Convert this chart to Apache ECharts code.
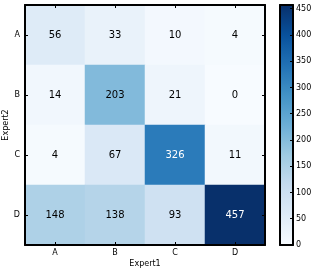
<!DOCTYPE html>
<html><head><meta charset="utf-8">
<script src="https://cdn.jsdelivr.net/npm/echarts@6/dist/echarts.min.js"></script>
<style>html,body{margin:0;padding:0;background:#fff}#c{width:315px;height:273px}</style>
</head><body><div id="c"></div>
<script>
const expert1 = ['A','B','C','D'];
const expert2 = ['A','B','C','D'];
const rowA = [56, 33, 10, 4];
const rowB = [14, 203, 21, 0];
const rowC = [4, 67, 326, 11];
const rowD = [148, 138, 93, 457];
const rows = [rowA, rowB, rowC, rowD];
const cbMax = 457;
const blues = ['#f7fbff','#deebf7','#c6dbef','#9ecae1','#6baed6','#4292c6','#2171b5','#08519c','#08306b'];
const font = 'DejaVu Sans';

const data = [];
rows.forEach((r, yi) => r.forEach((v, xi) => {
  data.push({value: [xi, yi, v], label: {color: v > cbMax / 2 ? '#fff' : '#000'}});
}));

const tick = {show: true, inside: true, length: 3, alignWithLabel: true, interval: 0, lineStyle: {color: '#000'}};
const line = {show: true, onZero: false, lineStyle: {color: '#000', width: 2}};

const chart = echarts.init(document.getElementById('c'), null, {renderer: 'canvas'});
chart.setOption({
  animation: false,
  textStyle: {fontFamily: font},
  grid: [
    {left: 25, top: 5, width: 240, height: 240, containLabel: false, outerBoundsMode: 'none'},
    {left: 280, top: 5, width: 13, height: 240, containLabel: false, outerBoundsMode: 'none'}
  ],
  xAxis: [
    {type: 'category', data: expert1, gridIndex: 0, position: 'bottom', z: 10,
     axisLine: line, axisTick: tick, splitLine: {show: false},
     axisLabel: {color: '#000', fontSize: 8, margin: 4, fontFamily: font},
     name: 'Expert1', nameLocation: 'middle', nameGap: 15, nameMoveOverlap: false,
     nameTextStyle: {color: '#000', fontSize: 8, fontFamily: font}},
    {type: 'category', data: expert1, gridIndex: 0, position: 'top', z: 10,
     axisLine: line, axisTick: tick, axisLabel: {show: false}, splitLine: {show: false}},
    {type: 'value', gridIndex: 1, min: 0, max: 1, position: 'bottom', z: 10,
     axisLine: line, axisTick: {show: false}, axisLabel: {show: false}, splitLine: {show: false}},
    {type: 'value', gridIndex: 1, min: 0, max: 1, position: 'top', z: 10,
     axisLine: line, axisTick: {show: false}, axisLabel: {show: false}, splitLine: {show: false}}
  ],
  yAxis: [
    {type: 'category', data: expert2, gridIndex: 0, inverse: true, position: 'left', z: 10,
     axisLine: line, axisTick: tick, splitLine: {show: false},
     axisLabel: {color: '#000', fontSize: 8, margin: 5, fontFamily: font},
     name: 'Expert2', nameLocation: 'middle', nameGap: 15, nameMoveOverlap: false,
     nameTextStyle: {color: '#000', fontSize: 8, fontFamily: font}},
    {type: 'category', data: expert2, gridIndex: 0, inverse: true, position: 'right', z: 10,
     axisLine: line, axisTick: tick, axisLabel: {show: false}, splitLine: {show: false}},
    {type: 'value', gridIndex: 1, min: 0, max: cbMax, interval: 50, position: 'right', z: 10,
     axisLine: line, axisTick: {show: true, inside: true, length: 3, lineStyle: {color: '#000'}},
     splitLine: {show: false},
     axisLabel: {color: '#000', fontSize: 8, margin: 3, fontFamily: font,
                 formatter: v => (v % 50 === 0 ? String(v) : '')}},
    {type: 'value', gridIndex: 1, min: 0, max: cbMax, position: 'left', z: 10,
     axisLine: line, axisTick: {show: false}, axisLabel: {show: false}, splitLine: {show: false}}
  ],
  visualMap: {
    type: 'continuous', min: 0, max: cbMax, seriesIndex: 0,
    calculable: false, hoverLink: false, realtime: false,
    orient: 'vertical', left: 280, top: 5, itemWidth: 13, itemHeight: 240, padding: 0,
    text: null, showLabel: false,
    inRange: {color: blues}
  },
  series: [
    {type: 'heatmap', xAxisIndex: 0, yAxisIndex: 0, data: data,
     label: {show: true, fontSize: 10, fontFamily: font},
     itemStyle: {borderWidth: 0}, emphasis: {disabled: true}},
    {type: 'line', xAxisIndex: 2, yAxisIndex: 2, data: [], silent: true}
  ]
});
</script></body></html>
